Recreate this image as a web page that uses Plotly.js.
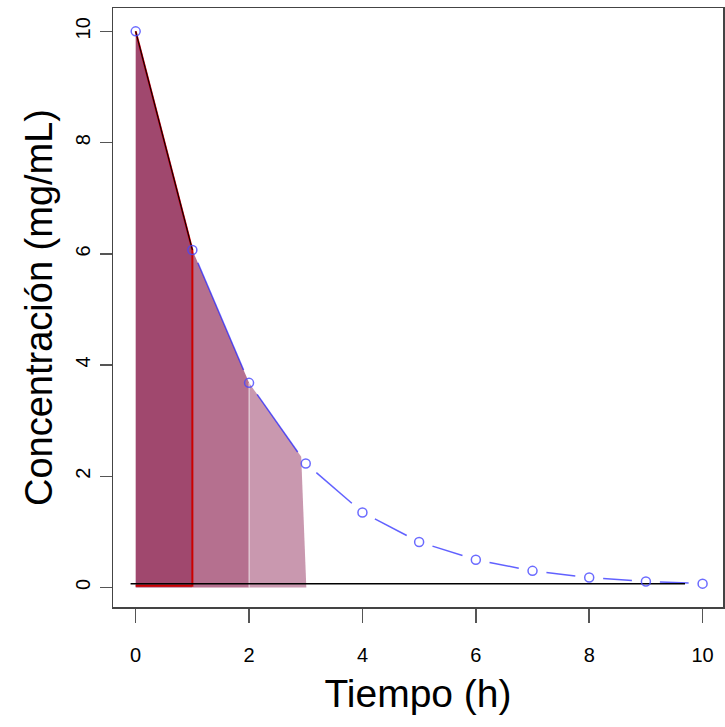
<!DOCTYPE html>
<html>
<head>
<meta charset="utf-8">
<script src="https://cdn.plot.ly/plotly-3.0.1.min.js"></script>
<style>html,body{margin:0;padding:0;background:#fff;}#chart{width:725px;height:727px;}</style>
</head>
<body>
<div id="chart"></div>
<script>
// ---- data ----
const tiempo = [0, 1, 2, 3, 4, 5, 6, 7, 8, 9, 10];
const conc = [10, 6.07, 3.68, 2.23, 1.35, 0.82, 0.50, 0.30, 0.18, 0.11, 0.07];

// shaded trapezoids (AUC by trapezoid rule)
const area1X = [0, 0, 1, 1];
const area1Y = [0, 10, 6.07, 0];
const area2X = [1, 1, 2, 2];
const area2Y = [0, 6.07, 3.68, 0];
const area3X = [2, 2, 2.92, 3.01];
const area3Y = [0, 3.68, 2.35, 0];
const areaColors = ['#A0486E', '#B5708F', '#C998AF'];

// outline of first trapezoid (red) and secant (black)
const redX = [0, 1, 1, 0];
const redY = [10, 6.07, 0.03, 0.03];
const secX = [0, 1];
const secY = [10, 6.07];
// horizontal reference line
const baseX = [-0.09, 9.69];
const baseY = [0.07, 0.07];
// light separator between trapezoid 2 and 3
const sepX = [2, 2];
const sepY = [0, 3.68];

const xTicks = [0, 2, 4, 6, 8, 10];
const yTicks = [0, 2, 4, 6, 8, 10];

// ---- layout constants ----
const W = 725, H = 727;
const M = {l: 113, r: 2, t: 8, b: 120};
const xRange = [-0.4, 10.36];
const yRange = [-0.35, 10.42];
const pxX = (W - M.l - M.r) / (xRange[1] - xRange[0]);
const pxY = (H - M.t - M.b) / (yRange[1] - yRange[0]);

// R type="b": line segments broken near each point
const gapPx = 14;
const segX = [], segY = [];
for (let i = 0; i < tiempo.length - 1; i++) {
  const dx = (tiempo[i+1] - tiempo[i]) * pxX;
  const dy = (conc[i+1] - conc[i]) * pxY;
  const len = Math.sqrt(dx*dx + dy*dy);
  const f = gapPx / len;
  if (f < 0.5) {
    segX.push(tiempo[i] + (tiempo[i+1]-tiempo[i]) * f, tiempo[i+1] - (tiempo[i+1]-tiempo[i]) * f, null);
    segY.push(conc[i] + (conc[i+1]-conc[i]) * f, conc[i+1] - (conc[i+1]-conc[i]) * f, null);
  }
}

const traces = [
  {x: area1X, y: area1Y, fill: 'toself', fillcolor: areaColors[0], mode: 'lines', line: {width: 0}, hoverinfo: 'skip'},
  {x: area2X, y: area2Y, fill: 'toself', fillcolor: areaColors[1], mode: 'lines', line: {width: 0}, hoverinfo: 'skip'},
  {x: area3X, y: area3Y, fill: 'toself', fillcolor: areaColors[2], mode: 'lines', line: {width: 0}, hoverinfo: 'skip'},
  {x: sepX, y: sepY, mode: 'lines', line: {color: 'rgba(255,255,255,0.7)', width: 1}, hoverinfo: 'skip'},
  {x: segX, y: segY, mode: 'lines', line: {color: 'rgba(30,30,255,0.7)', width: 1.5}, connectgaps: false, hoverinfo: 'skip'},
  {x: redX, y: redY, mode: 'lines', line: {color: '#CC0000', width: 2}, hoverinfo: 'skip'},
  {x: secX, y: secY, mode: 'lines', line: {color: '#000000', width: 1}, hoverinfo: 'skip'},
  {x: baseX, y: baseY, mode: 'lines', line: {color: '#000000', width: 1.5}, hoverinfo: 'skip'},
  {x: tiempo, y: conc, mode: 'markers', marker: {symbol: 'circle-open', size: 9, color: 'rgba(70,70,255,0.8)', line: {width: 1.5}}, hoverinfo: 'skip'}
];

const fontFam = '"Liberation Sans", Arial, Helvetica, sans-serif';
const layout = {
  width: W, height: H,
  margin: M,
  showlegend: false,
  paper_bgcolor: '#fff', plot_bgcolor: '#fff',
  font: {family: fontFam, color: '#000'},
  xaxis: {
    range: xRange, tickvals: xTicks, ticktext: xTicks.map(String),
    showgrid: false, zeroline: false,
    showline: true, mirror: true, linecolor: '#444', linewidth: 1.5,
    ticks: 'outside', ticklen: 14, tickwidth: 1.5, tickcolor: '#555',
    ticklabelstandoff: 15,
    tickfont: {size: 20, family: fontFam, color: '#000'},
    title: {text: 'Tiempo (h)', font: {size: 39, family: fontFam, color: '#000'}, standoff: 15},
    automargin: false
  },
  yaxis: {
    range: yRange, tickvals: yTicks, ticktext: yTicks.map(String), tickangle: -90,
    showgrid: false, zeroline: false,
    showline: true, mirror: true, linecolor: '#444', linewidth: 1.5,
    ticks: 'outside', ticklen: 12, tickwidth: 1.5, tickcolor: '#555',
    ticklabelstandoff: 2,
    tickfont: {size: 20, family: fontFam, color: '#000'},
    title: {text: 'Concentración (mg/mL)', font: {size: 38, family: fontFam, color: '#000'}, standoff: 7},
    automargin: false
  }
};

Plotly.newPlot('chart', traces, layout, {staticPlot: true, displayModeBar: false});
</script>
</body>
</html>
